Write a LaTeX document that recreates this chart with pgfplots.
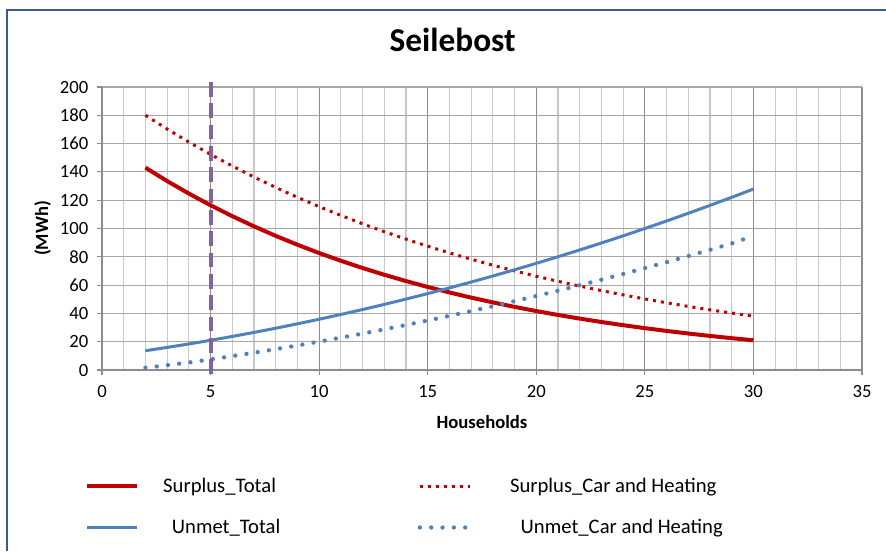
\documentclass[border=0pt]{standalone}
\usepackage{fontspec}
\setmainfont{Carlito}
\usepackage{pgfplots}
\usepackage{pgfplotstable}
\pgfplotsset{compat=1.18}
\definecolor{redline}{HTML}{C00000}
\definecolor{blueline}{HTML}{4F81BD}
\definecolor{purpleline}{HTML}{8064A2}
\definecolor{framec}{HTML}{385D8A}
\definecolor{gridmajor}{HTML}{8C8C8C}
\definecolor{gridminor}{HTML}{C8C8C8}
\definecolor{gridy}{HTML}{A6A6A6}

% households vs MWh
\pgfplotstableread{
x    st     sc     ut     uc
2    143.00 180.00 13.64  1.60
3    133.53 170.28 15.96  3.40
4    124.69 161.09 18.42  5.30
5    116.43 152.39 21.00  7.50
6    108.72 144.17 23.72  9.82
7    101.52 136.38 26.56  12.24
8    94.80  129.02 29.54  14.75
9    88.52  122.05 32.64  17.36
10   82.66  115.46 35.88  20.06
11   77.19  109.23 39.24  22.86
12   72.08  103.33 42.74  25.75
13   67.31  97.75  46.36  28.74
14   62.85  92.48  50.12  31.82
15   58.69  87.48  54.00  35.00
16   54.80  82.76  58.02  38.27
17   51.17  78.29  62.16  41.64
18   47.78  74.06  66.44  45.10
19   44.62  70.06  70.84  48.66
20   41.67  66.28  75.38  52.31
21   38.91  62.70  80.04  56.06
22   36.33  59.32  84.84  59.90
23   33.93  56.11  89.76  63.84
24   31.68  53.09  94.82  67.87
25   29.58  50.22  100.00 72.00
26   27.62  47.51  105.32 76.22
27   25.80  44.94  110.76 80.54
28   24.09  42.52  116.34 84.95
29   22.49  40.22  122.04 89.46
30   21.00  38.05  127.88 94.80
}\seilebost

\begin{document}
\begin{tikzpicture}
\path[use as bounding box] (0pt,0pt) rectangle (664.5pt,-413.25pt);
\draw[framec, line width=1.5pt] (5.6pt,-413.25pt) -- (5.6pt,-7.5pt) -- (664.5pt,-7.5pt);
\node[font=\fontsize{25}{30}\selectfont\bfseries, anchor=base] at (339.5pt,-38.8pt) {Seilebost};

\begin{axis}[
  at={(76.5pt,-277.5pt)}, anchor=south west,
  scale only axis,
  width=570pt, height=212.25pt,
  xmin=0, xmax=35, ymin=0, ymax=200,
  xtick={0,5,...,35},
  ytick={0,20,...,200},
  minor xtick={1,...,34},
  grid=both,
  major x grid style={gridmajor, line width=0.8pt},
  minor x grid style={gridminor, line width=0.8pt},
  major y grid style={gridy, line width=0.8pt},
  axis lines=left,
  axis line style={gridmajor, line width=0.8pt, -},
  tick align=outside,
  major tick length=3.75pt,
  minor tick length=0pt,
  tick style={gridmajor, line width=0.8pt},
  clip=false,
  /pgf/number format/assume math mode=true,
  tick label style={font=\fontsize{14}{17}\selectfont},
  xticklabel style={yshift=-4pt},
  yticklabel style={xshift=-3pt},
  xlabel={Households},
  ylabel={(MWh)},
  xlabel style={font=\fontsize{14}{17}\selectfont\bfseries, at={(axis description cs:0.5,-0.205)}, anchor=base},
  ylabel style={font=\fontsize{14}{17}\selectfont\bfseries, at={(axis description cs:-0.078,0.5)}, anchor=center},
  legend columns=2,
  legend cell align=left,
  legend image code/.code={\draw[#1] (0pt,0pt) -- (37.5pt,0pt);},
  legend style={at={(-0.0224,-0.371)}, anchor=north west, draw=none, fill=none,
    inner sep=0pt, font=\fontsize{15.5}{18}\selectfont, row sep=14.75pt,
    /tikz/every odd column/.append style={column sep=16pt},
    /tikz/every even column/.append style={column sep=101pt}},
]
\addplot[redline, line width=3pt] table[x=x, y=st] {\seilebost};
\addlegendentry{Surplus\_Total}
\addplot[redline, line width=2.25pt, dash pattern=on 2.25pt off 3.75pt] table[x=x, y=sc] {\seilebost};
\addlegendentry{\hspace{10.5pt}Surplus\_Car and Heating}
\addplot[blueline, line width=2.25pt] table[x=x, y=ut] {\seilebost};
\addlegendentry{\hspace{6.5pt}Unmet\_Total}
\addplot[blueline, line width=3.25pt, line cap=round, dash pattern=on 0pt off 8.5pt] table[x=x, y=uc] {\seilebost};
\addlegendentry{\hspace{18.5pt}Unmet\_Car and Heating}
% marker line at 5 households
\addplot[purpleline, line width=3pt, dash pattern=on 11pt off 5pt, forget plot] coordinates {(5,203.5) (5,-3)};
\end{axis}
\end{tikzpicture}
\end{document}
